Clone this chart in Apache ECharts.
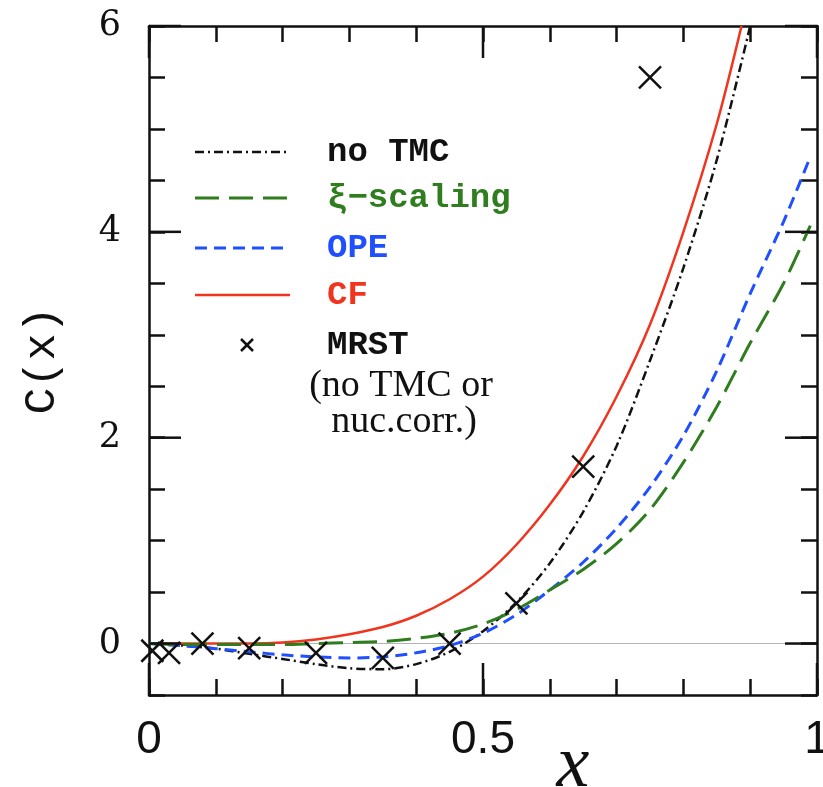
<!DOCTYPE html>
<html>
<head>
<meta charset="utf-8">
<script src="https://cdn.jsdelivr.net/npm/echarts@6/dist/echarts.min.js"></script>
<style>html,body{margin:0;padding:0;background:#fff}#c{width:823px;height:787px}</style>
</head>
<body>
<div id="c"></div>
<script>
// ---- data ----
const noTmcX = [0,0.05,0.1,0.15,0.2,0.25,0.3,0.35,0.4,0.45,0.5,0.55,0.6,0.65,0.7,0.75,0.8,0.85,0.9];
const noTmcY = [0,-0.02,-0.05,-0.1,-0.15,-0.2,-0.24,-0.25,-0.2,-0.08,0.12,0.40,0.78,1.28,1.92,2.75,3.65,4.7,6.0];

const xiX = [0,0.05,0.1,0.15,0.2,0.25,0.3,0.35,0.4,0.45,0.5,0.55,0.6,0.65,0.7,0.75,0.8,0.85,0.9,0.95,0.99];
const xiY = [0,-0.01,-0.01,-0.01,-0.01,0,0.01,0.02,0.05,0.1,0.19,0.33,0.52,0.72,0.97,1.3,1.76,2.3,2.92,3.5,4.06];

const opeX = [0,0.05,0.1,0.15,0.2,0.25,0.3,0.35,0.4,0.45,0.5,0.55,0.6,0.65,0.7,0.75,0.8,0.85,0.9,0.95,0.99];
const opeY = [0,-0.02,-0.05,-0.08,-0.11,-0.13,-0.14,-0.13,-0.09,-0.02,0.1,0.28,0.52,0.79,1.12,1.52,2.02,2.65,3.4,4.1,4.73];

const cfX = [0,0.05,0.1,0.15,0.2,0.25,0.3,0.35,0.4,0.45,0.5,0.55,0.6,0.65,0.7,0.75,0.8,0.85,0.887];
const cfY = [0,0,0,0,0.01,0.04,0.09,0.16,0.27,0.43,0.65,0.96,1.35,1.82,2.4,3.1,4.0,5.05,6.0];

const mrstX = [0.005,0.03,0.08,0.15,0.25,0.35,0.45,0.55,0.65,0.75];
const mrstY = [-0.07,-0.09,0.0,-0.045,-0.09,-0.14,0.0,0.39,1.72,5.5];

const xLabelValues = [0, 0.5, 1];
const yLabelValues = [0, 2, 4, 6];
const seriesNames = ['no TMC', '\u03BE\u2212scaling', 'OPE', 'CF', 'MRST'];

(function () {
  // ---- build ----
  const zip = (a, b) => a.map((v, i) => [v, b[i]]);
  const AX = '#111';
  const colors = {noTmc:'#111111', xi:'#2f7d1f', ope:'#1f4fff', cf:'#f0341e'};
  const dashNoTmc = [9,4,2,4];
  const dashXi = [24,10];
  const dashOpe = [12,7];
  const X_MIN = 0, X_MAX = 1, Y_MIN = -0.5, Y_MAX = 6;
  const MINOR_LEN = 16, MAJOR_LEN = 32;

  function xAxisDef(pos, labels) {
    return {
      type:'value', position:pos, min:X_MIN, max:X_MAX, interval:0.1,
      axisLine:{show:true, onZero:false, lineStyle:{color:AX, width:2.5}},
      axisTick:{show:true, inside:true, length:MINOR_LEN, lineStyle:{color:AX, width:2.5}},
      axisLabel: labels ? {show:true, customValues:xLabelValues, margin:22,
        fontFamily:'Liberation Sans', fontSize:46, color:'#111',
        formatter: v => String(v)} : {show:false},
      splitLine:{show:false},
      name: labels ? 'x' : '', nameLocation:'middle', nameGap:35, nameMoveOverlap:false,
      nameTextStyle:{fontFamily:'Liberation Serif', fontStyle:'italic', fontSize:74, color:'#111',
        padding:[0,0,0,180]}
    };
  }
  function yAxisDef(pos, labels) {
    return {
      type:'value', position:pos, min:Y_MIN, max:Y_MAX, interval:0.5,
      axisLine:{show:true, onZero:false, lineStyle:{color:AX, width:2.5}},
      axisTick:{show:true, inside:true, length:MINOR_LEN, lineStyle:{color:AX, width:2.5}},
      axisLabel: labels ? {show:true, customValues:yLabelValues, margin:28,
        fontFamily:'DejaVu Serif', fontSize:35, color:'#111'} : {show:false},
      splitLine:{show:false},
      name: labels ? 'C(x)' : '', nameLocation:'middle', nameGap:84, nameRotate:90, nameMoveOverlap:false,
      nameTextStyle:{fontFamily:'Liberation Mono', fontSize:45, color:'#111'}
    };
  }

  const legendTop = 152, legendStep = [0,46,96,143];
  const lineSamples = [
    {color:colors.noTmc, dash:dashNoTmc, w:2.5},
    {color:colors.xi, dash:dashXi, w:3},
    {color:colors.ope, dash:dashOpe, w:3},
    {color:colors.cf, dash:null, w:2.5}
  ];
  const graphics = [];
  lineSamples.forEach((s, i) => {
    const y = legendTop + legendStep[i];
    graphics.push({type:'line', shape:{x1:195, y1:y, x2:290, y2:y},
      style:{stroke:s.color, lineWidth:s.w, lineDash:s.dash}});
    graphics.push({type:'text', x:327, y:y, style:{text:seriesNames[i], fill:s.color,
      font:'bold 34px "Liberation Mono"', textVerticalAlign:'middle', textAlign:'left'}});
  });
  graphics.push({type:'group', x:247, y:345, children:[
    {type:'line', shape:{x1:-6,y1:-6,x2:6,y2:6}, style:{stroke:'#111', lineWidth:2.5}},
    {type:'line', shape:{x1:6,y1:-6,x2:-6,y2:6}, style:{stroke:'#111', lineWidth:2.5}}
  ]});
  graphics.push({type:'text', x:327, y:345, style:{text:seriesNames[4], fill:'#111',
    font:'bold 34px "Liberation Mono"', textVerticalAlign:'middle', textAlign:'left'}});
  graphics.push({type:'text', x:401, y:386, style:{text:'(no TMC or', fill:'#111',
    font:'38px "Liberation Serif"', textVerticalAlign:'middle', textAlign:'center'}});
  graphics.push({type:'text', x:404, y:422, style:{text:'nuc.corr.)', fill:'#111',
    font:'38px "Liberation Serif"', textVerticalAlign:'middle', textAlign:'center'}});

  const option = {
    animation:false,
    backgroundColor:'#fff',
    grid:{left:149, top:26, right:6, bottom:92, containLabel:false, outerBoundsMode:'none'},
    xAxis:[xAxisDef('bottom', true), xAxisDef('top', false)],
    yAxis:[yAxisDef('left', true), yAxisDef('right', false)],
    graphic: graphics,
    series:[
      {name:seriesNames[3], type:'line', data:zip(cfX, cfY), symbol:'none', smooth:0.3,
        lineStyle:{color:colors.cf, width:2.5}, z:3,
        markLine:{silent:true, symbol:['none','none'], label:{show:false},
          lineStyle:{color:'#b4b4b4', width:1, type:'solid'}, data:[{yAxis:0}], z:1}},
      {name:seriesNames[0], type:'line', data:zip(noTmcX, noTmcY), symbol:'none', smooth:0.3,
        lineStyle:{color:colors.noTmc, width:2.5, type:dashNoTmc}, z:4},
      {name:seriesNames[2], type:'line', data:zip(opeX, opeY), symbol:'none', smooth:0.3,
        lineStyle:{color:colors.ope, width:3, type:dashOpe}, z:4},
      {name:seriesNames[1], type:'line', data:zip(xiX, xiY), symbol:'none', smooth:0.3,
        lineStyle:{color:colors.xi, width:3, type:dashXi}, z:4},
      {name:seriesNames[4], type:'scatter', data:zip(mrstX, mrstY),
        symbol:'path://M0,0L10,10M10,0L0,10', symbolSize:22, clip:false,
        itemStyle:{color:'none', borderColor:'#111', borderWidth:2.5, opacity:1}, z:6}
    ]
  };
  const chart = echarts.init(document.getElementById('c'), null, {renderer:'canvas'});
  chart.setOption(option);

  // long (major) ticks, positioned through the chart's own scales
  try {
    const toPx = (x, y) => chart.convertToPixel({xAxisIndex:0, yAxisIndex:0}, [x, y]);
    const pxLeft = toPx(X_MIN, 0)[0], pxRight = toPx(X_MAX, 0)[0];
    const pxBottom = toPx(0, Y_MIN)[1], pxTop = toPx(0, Y_MAX)[1];
    const majorTicks = [];
    const tickStyle = {stroke:AX, lineWidth:2.5};
    xLabelValues.forEach(v => {
      const px = toPx(v, 0)[0];
      majorTicks.push({type:'line', z:50, shape:{x1:px, y1:pxBottom, x2:px, y2:pxBottom - MAJOR_LEN}, style:tickStyle});
      majorTicks.push({type:'line', z:50, shape:{x1:px, y1:pxTop, x2:px, y2:pxTop + MAJOR_LEN}, style:tickStyle});
    });
    yLabelValues.forEach(v => {
      const py = toPx(0, v)[1];
      majorTicks.push({type:'line', z:50, shape:{x1:pxLeft, y1:py, x2:pxLeft + MAJOR_LEN, y2:py}, style:tickStyle});
      majorTicks.push({type:'line', z:50, shape:{x1:pxRight, y1:py, x2:pxRight - MAJOR_LEN, y2:py}, style:tickStyle});
    });
    chart.setOption({graphic: graphics.concat(majorTicks)});
  } catch (e) { console.error(e); }
})();
</script>
</body>
</html>
